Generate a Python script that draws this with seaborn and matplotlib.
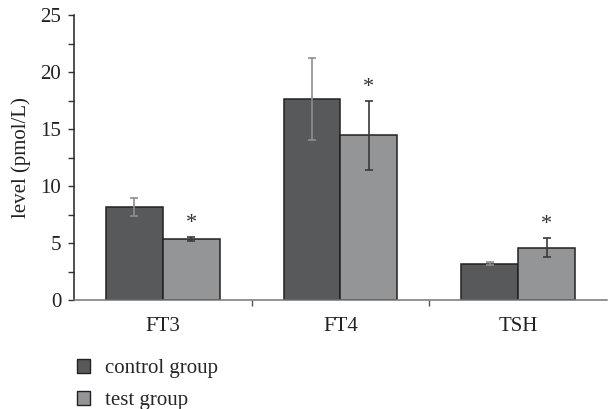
import matplotlib
matplotlib.use("Agg")
import matplotlib.pyplot as plt
from matplotlib.patches import Patch
from matplotlib.ticker import MultipleLocator, FixedLocator
import seaborn as sns
import pandas as pd

# Thyroid hormone levels per group (pmol/L)
hormones = ["FT3", "FT4", "TSH"]
groups = ["control group", "test group"]
control_mean = [8.15, 17.65, 3.2]
control_err = [0.8, 3.6, 0.12]
test_mean = [5.35, 14.45, 4.6]
test_err = [0.15, 3.0, 0.8]
significant = [True, True, True]

colors = {"control group": "#58595b", "test group": "#939598"}
err_colors = {"control group": "#8e8e8e", "test group": "#3a3a3a"}

df = pd.DataFrame({
    "hormone": hormones * 2,
    "group": [groups[0]] * 3 + [groups[1]] * 3,
    "level": control_mean + test_mean,
    "err": control_err + test_err,
})

sns.set_style("white")
plt.rcParams["font.family"] = ["Liberation Serif", "DejaVu Serif"]
FS = 15

fig = plt.figure(figsize=(6.1, 4.09), dpi=100)
ax = fig.add_axes([0.121, 0.2665, 0.874, 0.6965])

sns.barplot(data=df, x="hormone", y="level", hue="group", order=hormones,
            hue_order=groups, palette=colors, width=0.64, edgecolor="#222222",
            linewidth=1.1, errorbar=None, legend=False, ax=ax)

# Error bars and significance markers on top of each bar
for gi, g in enumerate(groups):
    sub = df[df["group"] == g].set_index("hormone").loc[hormones]
    cont = ax.containers[gi]
    xs = [p.get_x() + p.get_width() / 2 for p in cont.patches]
    ax.errorbar(xs, sub["level"], yerr=sub["err"], fmt="none",
                ecolor=err_colors[g], elinewidth=1.2, capsize=3, capthick=1.2,
                zorder=5)
    if g == "test group":
        for x, m, e, s in zip(xs, sub["level"], sub["err"], significant):
            if s:
                ax.text(x, m + e + 0.4, "*", ha="center", va="bottom",
                        fontsize=16, color="#333333")

ax.set_xlim(-0.5, 2.5)
ax.set_ylim(0, 25)
ax.yaxis.set_major_locator(MultipleLocator(5))
ax.yaxis.set_minor_locator(MultipleLocator(2.5))
ax.xaxis.set_minor_locator(FixedLocator([0.5, 1.5]))
ax.tick_params(axis="y", which="both", direction="out", left=True,
               length=4, width=1, color="#333333", labelsize=FS,
               labelcolor="#222222", pad=5)
ax.tick_params(axis="x", which="major", length=0, labelsize=FS,
               labelcolor="#222222", pad=12)
ax.tick_params(axis="x", which="minor", bottom=True, direction="out",
               length=4, width=1, color="#555555")
ax.set_xlabel("")
ax.set_ylabel("level (pmol/L)", fontsize=FS, color="#222222", labelpad=7)

for side in ["top", "right"]:
    ax.spines[side].set_visible(False)
ax.spines["left"].set_color("#222222")
ax.spines["bottom"].set_color("#777777")
ax.spines["left"].set_linewidth(1.1)
ax.spines["bottom"].set_linewidth(1.1)

handles = [Patch(facecolor=colors[g], edgecolor="#222222", linewidth=1.0, label=g)
           for g in groups]
fig.legend(handles=handles, loc="upper left", bbox_to_anchor=(0.112, 0.143),
           frameon=False, fontsize=FS, handlelength=0.65, handleheight=0.65,
           handletextpad=0.7, labelspacing=0.6, borderaxespad=0,
           bbox_transform=fig.transFigure)

fig.savefig("out.png", dpi=100)
